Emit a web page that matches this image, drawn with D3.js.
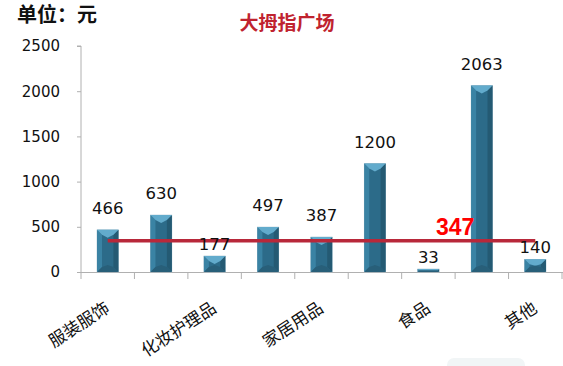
<!DOCTYPE html>
<html lang="zh">
<head>
  <meta charset="UTF-8">
  <title>大拇指广场</title>
  <script src="https://d3js.org/d3.v7.min.js"></script>
  <style>
    html, body { margin: 0; padding: 0; background: #fff; overflow: hidden; }
    svg { display: block; font-family: "DejaVu Sans", sans-serif; }
  </style>
</head>
<body>
<div id="chart"></div>
<script>
  // chart values
  const categories = ["服装服饰", "", "化妆护理品", "", "家居用品", "", "食品", "", "其他"];
  const values = [466, 630, 177, 497, 387, 1200, 33, 2063, 140];
  const average = 347;
  const yTicks = [0, 500, 1000, 1500, 2000, 2500];

  const width = 563, height = 366;
  const plotLeft = 81, plotRight = 562, plotTop = 46, plotBottom = 272;

  const svg = d3.select("#chart").append("svg")
    .attr("width", width)
    .attr("height", height);

  const x = d3.scaleBand()
    .domain(d3.range(values.length))
    .range([plotLeft, plotRight])
    .paddingInner(0.6)
    .paddingOuter(0.3);

  const y = d3.scaleLinear().domain([0, 2500]).range([plotBottom, plotTop]);

  // faint box at the bottom
  svg.append("rect")
    .attr("x", 447).attr("y", 358).attr("width", 78).attr("height", 16)
    .attr("rx", 7).attr("fill", "#f1f5f6");

  // headings
  svg.append("text")
    .attr("x", 17).attr("y", 22)
    .attr("font-family", "Noto Sans CJK SC")
    .attr("font-weight", "bold")
    .attr("font-size", 20)
    .attr("fill", "#111")
    .text("单位：元");

  svg.append("text")
    .attr("x", 287).attr("y", 30)
    .attr("text-anchor", "middle")
    .attr("font-family", "Noto Sans CJK SC")
    .attr("font-weight", "bold")
    .attr("font-size", 19)
    .attr("fill", "#c0232f")
    .text("大拇指广场");

  // y axis
  const yAxis = d3.axisLeft(y).tickValues(yTicks).tickFormat(d3.format("d"))
    .tickSize(4).tickPadding(17);
  const gy = svg.append("g").attr("transform", `translate(${plotLeft},0)`).call(yAxis);
  gy.select(".domain").attr("stroke", "#b0b0b0").attr("d", `M-4,${plotTop}H0V${plotBottom}`);
  gy.selectAll(".tick line").attr("stroke", "#b0b0b0");
  gy.selectAll(".tick text")
    .attr("font-family", "DejaVu Sans")
    .attr("font-size", 15)
    .attr("fill", "#111");

  // x axis line and boundary ticks
  svg.append("line")
    .attr("x1", plotLeft).attr("x2", width)
    .attr("y1", plotBottom + 0.5).attr("y2", plotBottom + 0.5)
    .attr("stroke", "#b0b0b0");
  svg.append("g").selectAll("line")
    .data(d3.range(values.length + 1))
    .join("line")
    .attr("x1", i => plotLeft + i * x.step())
    .attr("x2", i => plotLeft + i * x.step())
    .attr("y1", plotBottom)
    .attr("y2", plotBottom + 7)
    .attr("stroke", "#b0b0b0");

  // beveled bars
  const bw = x.bandwidth(), bev = 5;
  const bars = svg.append("g").selectAll("g")
    .data(values)
    .join("g")
    .attr("transform", (d, i) => `translate(${x(i)},0)`);

  bars.append("rect")
    .attr("x", 0).attr("width", bw)
    .attr("y", d => y(d)).attr("height", d => plotBottom - y(d))
    .attr("fill", "#2c6b89")
    .attr("stroke", "#9fbccb").attr("stroke-width", 0.6);
  // left bevel
  bars.append("path")
    .attr("d", d => {
      const t = y(d), h = plotBottom - t, b = Math.min(bev, h / 2);
      return `M0,${t}L${b},${t + b}L${b},${plotBottom - b}L0,${plotBottom}Z`;
    })
    .attr("fill", "#3a83a4");
  // right bevel
  bars.append("path")
    .attr("d", d => {
      const t = y(d), h = plotBottom - t, b = Math.min(bev, h / 2);
      return `M${bw},${t}L${bw - b},${t + b}L${bw - b},${plotBottom - b}L${bw},${plotBottom}Z`;
    })
    .attr("fill", "#245a73");
  // top bevel
  bars.append("path")
    .attr("d", d => {
      const t = y(d), h = plotBottom - t, b = Math.min(bev, h / 2);
      return `M0,${t}L${bw},${t}L${bw - b},${t + b}L${bw / 2},${t + Math.min(b * 1.6, h / 2)}L${b},${t + b}Z`;
    })
    .attr("fill", "#62abcc");
  // bottom bevel
  bars.append("path")
    .attr("d", d => {
      const t = y(d), h = plotBottom - t, b = Math.min(bev, h / 2);
      return `M0,${plotBottom}L${bw},${plotBottom}L${bw - b},${plotBottom - b}L${bw / 2},${plotBottom - Math.min(b * 1.4, h / 2)}L${b},${plotBottom - b}Z`;
    })
    .attr("fill", "#285f79");

  // average line
  svg.append("line")
    .attr("x1", x(0) + bw / 2)
    .attr("x2", x(values.length - 1) + bw / 2)
    .attr("y1", y(average)).attr("y2", y(average))
    .attr("stroke", "#b8283a")
    .attr("stroke-width", 3.5);

  // value labels
  svg.append("g").selectAll("text")
    .data(values)
    .join("text")
    .attr("x", (d, i) => x(i) + bw / 2)
    .attr("y", d => y(d) - (d < average ? 6 : 16))
    .attr("text-anchor", "middle")
    .attr("font-family", "DejaVu Sans")
    .attr("font-size", 16.5)
    .attr("fill", "#111")
    .text(d => d);

  svg.append("text")
    .attr("x", plotLeft + 7 * x.step())
    .attr("y", y(average) - 6)
    .attr("text-anchor", "middle")
    .attr("font-family", "Liberation Sans")
    .attr("font-weight", "bold")
    .attr("font-size", 23)
    .attr("fill", "#ff0000")
    .text(average);

  // rotated category labels
  svg.append("g").selectAll("text")
    .data(categories)
    .join("text")
    .attr("transform", (d, i) => `translate(${x(i) + bw / 2 + 3},311) rotate(-33)`)
    .attr("text-anchor", "end")
    .attr("font-family", "Noto Sans CJK SC")
    .attr("font-size", 17)
    .attr("fill", "#111")
    .text(d => d);
</script>
</body>
</html>
